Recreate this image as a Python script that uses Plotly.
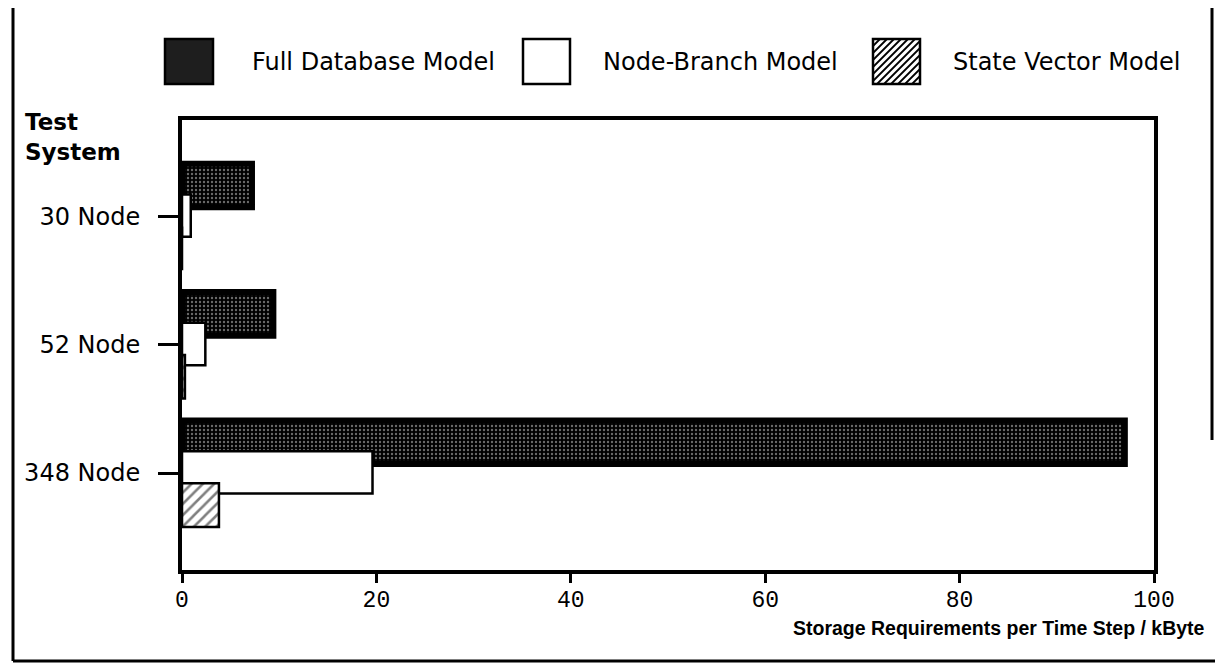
import plotly.graph_objects as go

# storage per time step (kByte)
systems = ["30 Node", "52 Node", "348 Node"]
full_db = [7.2, 9.4, 97.0]
node_branch = [0.9, 2.4, 19.6]
state_vector = [0.0, 0.3, 3.8]
x_ticks = [0, 20, 40, 60, 80, 100]

# the page puts the plot 8px in from the top-left, so work in
# reference pixels and shift everything back by that amount
OFF = 8
W, H = 1223 - OFF, 667 - OFF
L, R, T, B = 182 - OFF, 1154 - OFF, 120 - OFF, 570 - OFF


def px_x(x):
    return (x - OFF - L) / (R - L)


def px_y(y):
    return (B - (y - OFF)) / (B - T)


SANS = "DejaVu Sans"
fig = go.Figure()

fig.add_trace(go.Bar(
    y=systems, x=full_db, orientation="h", name="Full Database Model",
    width=0.34, offset=-0.41,
    marker=dict(color="black", line=dict(color="black", width=6),
                pattern=dict(shape=".", fgcolor="#d4d4d4", bgcolor="black",
                             size=4, solidity=0.28)),
))
fig.add_trace(go.Bar(
    y=systems, x=node_branch, orientation="h", name="Node-Branch Model",
    width=0.33, offset=-0.17,
    marker=dict(color="white", line=dict(color="black", width=2.5)),
))
fig.add_trace(go.Bar(
    y=systems, x=state_vector, orientation="h", name="State Vector Model",
    width=0.34, offset=0.08,
    marker=dict(color="white", line=dict(color="black", width=2.5),
                pattern=dict(shape="/", fgcolor="black", bgcolor="white",
                             size=8, solidity=0.32)),
))

fig.update_layout(
    width=W, height=H,
    margin=dict(l=L, r=W - R, t=T, b=H - B),
    paper_bgcolor="white", plot_bgcolor="white",
    barmode="overlay", showlegend=False,
    font=dict(family=SANS, color="black"),
)
fig.update_xaxes(
    range=[0, 100], tickvals=x_ticks, ticks="outside", ticklen=9, tickwidth=3,
    tickcolor="black", showgrid=False, zeroline=False,
    showline=True, linewidth=4, linecolor="black", mirror=True,
    tickfont=dict(family="Liberation Mono", size=23, color="black"),
    ticklabelstandoff=-4,
)
fig.update_yaxes(
    type="category", range=[2.755, -0.75], ticks="outside", ticklen=20,
    tickwidth=2.5, tickcolor="black", showgrid=False, zeroline=False,
    showline=True, linewidth=4, linecolor="black", mirror=True,
    tickfont=dict(family=SANS, size=24, color="black"), ticklabelstandoff=13,
)

shapes = []
# outer frame of the figure
frame = dict(color="black", width=3)
shapes.append(dict(type="line", xref="paper", yref="paper",
                   x0=px_x(13), x1=px_x(13), y0=px_y(0), y1=px_y(661), line=frame))
shapes.append(dict(type="line", xref="paper", yref="paper",
                   x0=px_x(13), x1=px_x(1223), y0=px_y(661), y1=px_y(661), line=frame))
shapes.append(dict(type="line", xref="paper", yref="paper",
                   x0=px_x(1212), x1=px_x(1212), y0=px_y(8), y1=px_y(440), line=frame))

# legend icons
top, bot = 39, 84
icons = [(165, 213, "#1e1e1e"), (523, 570, "white"), (873, 920, "white")]
for x0, x1, fill in icons:
    shapes.append(dict(type="rect", xref="paper", yref="paper",
                       x0=px_x(x0), x1=px_x(x1), y0=px_y(bot), y1=px_y(top),
                       fillcolor=fill, line=dict(color="black", width=2.5)))
# hatch for the state vector icon
x0, x1 = 873, 920
step = 7
for k in range(-(bot - top), x1 - x0, step):
    ax, ay = x0 + k, bot
    bx, by = x0 + k + (bot - top), top
    if ax < x0:
        ay -= x0 - ax
        ax = x0
    if bx > x1:
        by += bx - x1
        bx = x1
    if bx <= ax:
        continue
    shapes.append(dict(type="line", xref="paper", yref="paper",
                       x0=px_x(ax), x1=px_x(bx), y0=px_y(ay), y1=px_y(by),
                       line=dict(color="black", width=1.8)))
fig.update_layout(shapes=shapes)

ann = []
for x, txt in [(250, "Full Database Model"), (601, "Node-Branch Model"),
               (951, "State Vector Model")]:
    ann.append(dict(text=txt, xref="paper", yref="paper", x=px_x(x), y=px_y(62),
                    xanchor="left", yanchor="middle", showarrow=False,
                    font=dict(family=SANS, size=24, color="black")))
ann.append(dict(text="<b>Test<br>System</b>", xref="paper", yref="paper",
                x=px_x(23), y=px_y(137), xanchor="left", yanchor="middle",
                align="left", showarrow=False,
                font=dict(family=SANS, size=23, color="black")))
ann.append(dict(text="<b>Storage Requirements per Time Step / kByte</b>",
                xref="paper", yref="paper", x=px_x(1207), y=px_y(628),
                xanchor="right", yanchor="middle", showarrow=False,
                font=dict(family="Liberation Sans Narrow, Liberation Sans", size=19.5,
                          color="black")))
fig.update_layout(annotations=ann)

fig.write_html("out.html")
